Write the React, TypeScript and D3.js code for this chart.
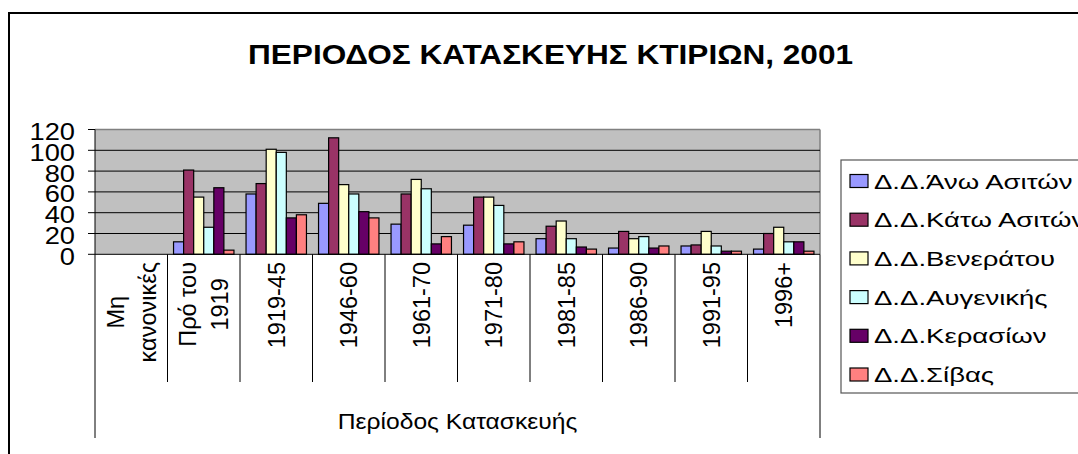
import React, { useEffect, useRef } from "react";
import * as d3 from "d3";

const categories = ["Μη κανονικές", "Πρό του 1919", "1919-45", "1946-60", "1961-70", "1971-80", "1981-85", "1986-90", "1991-95", "1996+"];
const categoryLines = [["Μη", "κανονικές"], ["Πρό του", "1919"], ["1919-45"], ["1946-60"], ["1961-70"], ["1971-80"], ["1981-85"], ["1986-90"], ["1991-95"], ["1996+"]];
const seriesNames = ["Δ.Δ.Άνω Ασιτών", "Δ.Δ.Κάτω Ασιτών", "Δ.Δ.Βενεράτου", "Δ.Δ.Αυγενικής", "Δ.Δ.Κερασίων", "Δ.Δ.Σίβας"];
const anoAsiton = [0, 12, 58, 49, 29, 28, 15, 6, 8, 5];
const katoAsiton = [0, 81, 68, 112, 58, 55, 27, 22, 9, 20];
const veneratou = [0, 55, 101, 67, 72, 55, 32, 15, 22, 26];
const avgenikis = [0, 26, 98, 58, 63, 47, 15, 17, 8, 12];
const kerasion = [0, 64, 35, 41, 10, 10, 7, 6, 3, 12];
const sivas = [0, 4, 38, 35, 17, 12, 5, 8, 3, 3];
const seriesValues = [anoAsiton, katoAsiton, veneratou, avgenikis, kerasion, sivas];
const seriesColors = ["#9999FF", "#993366", "#FFFFCC", "#CCFFFF", "#660066", "#FF8080"];
const yTicks = [0, 20, 40, 60, 80, 100, 120];
const title = "ΠΕΡΙΟΔΟΣ ΚΑΤΑΣΚΕΥΗΣ ΚΤΙΡΙΩΝ, 2001";
const axisTitle = "Περίοδος Κατασκευής";

export default function App() {
  const ref = useRef<SVGSVGElement>(null);
  useEffect(() => {
    const svg = d3.select(ref.current);
    svg.selectAll("*").remove();
    const W = 1078, H = 454;
    const font = "'Liberation Sans', Arial, sans-serif";
    const left = 95, right = 820, top = 129.5, zero = 254.3;

    svg.append("rect").attr("x", 0).attr("y", 0).attr("width", W).attr("height", H).attr("fill", "#fff");
    svg.append("rect").attr("x", 9).attr("y", 13).attr("width", W + 20).attr("height", H + 20)
      .attr("fill", "#fff").attr("stroke", "#000").attr("stroke-width", 2);

    svg.append("text").attr("x", 248).attr("y", 64).attr("font-family", font).attr("font-weight", "bold")
      .attr("font-size", 27).attr("textLength", 605).attr("lengthAdjust", "spacingAndGlyphs").text(title);

    const y = d3.scaleLinear().domain([0, 120]).range([zero, top]);
    const x = d3.scaleBand().domain(categories).range([left, right]);
    const xi = d3.scaleBand().domain(seriesNames).range([0, x.bandwidth()]).paddingInner(0).paddingOuter(0.6);

    svg.append("rect").attr("x", left).attr("y", top).attr("width", right - left).attr("height", zero - top).attr("fill", "#C0C0C0");
    svg.append("line").attr("x1", left).attr("x2", right).attr("y1", top).attr("y2", top).attr("stroke", "#808080").attr("stroke-width", 1.5);
    svg.append("line").attr("x1", right).attr("x2", right).attr("y1", top).attr("y2", zero).attr("stroke", "#808080").attr("stroke-width", 1.5);

    yTicks.filter(t => t > 0 && t < 120).forEach(t => {
      svg.append("line").attr("x1", left).attr("x2", right).attr("y1", y(t)).attr("y2", y(t)).attr("stroke", "#000").attr("stroke-width", 1);
    });

    seriesValues.forEach((vals, si) => {
      svg.append("g").selectAll("rect").data(vals.map((v, ci) => ({ v, c: categories[ci] })).filter(d => d.v > 0))
        .join("rect")
        .attr("x", d => (x(d.c) as number) + (xi(seriesNames[si]) as number))
        .attr("y", d => y(d.v))
        .attr("width", xi.bandwidth())
        .attr("height", d => zero - y(d.v))
        .attr("fill", seriesColors[si]).attr("stroke", "#000").attr("stroke-width", 1.2);
    });

    // axes
    svg.append("line").attr("x1", left).attr("x2", left).attr("y1", top).attr("y2", zero).attr("stroke", "#000");
    svg.append("line").attr("x1", left).attr("x2", right).attr("y1", zero).attr("y2", zero).attr("stroke", "#000");
    yTicks.forEach(t => {
      svg.append("line").attr("x1", left - 7).attr("x2", left).attr("y1", y(t)).attr("y2", y(t)).attr("stroke", "#000");
      svg.append("g").attr("transform", `translate(75,${y(t) + 10.5}) scale(1.16,1)`)
        .append("text").attr("text-anchor", "end").attr("font-family", font).attr("font-size", 23.5).text(String(t));
    });

    // category dividers
    for (let i = 0; i <= categories.length; i++) {
      const xx = left + i * x.bandwidth();
      const outer = i === 0 || i === categories.length;
      svg.append("line").attr("x1", xx).attr("x2", xx).attr("y1", zero).attr("y2", outer ? 438 : 382)
        .attr("stroke", "#000").attr("stroke-width", 1);
    }

    // category labels
    const fs = 23.5, gap = 32, labelTop = 262;
    categoryLines.forEach((lines, ci) => {
      const cx = (x(categories[ci]) as number) + x.bandwidth() / 2;
      const n = lines.length;
      const nodes = lines.map((ln, j) => {
        const bx = cx + 0.358 * fs + (j - (n - 1) / 2) * gap;
        const g = svg.append("g");
        const t = g.append("text").attr("font-family", font).attr("font-size", fs).text(ln);
        return { g, t, bx };
      });
      if (n === 1) {
        nodes[0].t.attr("text-anchor", "end");
        nodes[0].g.attr("transform", `translate(${nodes[0].bx},${labelTop}) rotate(-90)`);
      } else {
        const L = d3.max(nodes, d => (d.t.node() as SVGTextElement).getComputedTextLength()) as number;
        nodes.forEach(d => {
          d.t.attr("text-anchor", "middle");
          d.g.attr("transform", `translate(${d.bx},${labelTop + L / 2}) rotate(-90)`);
        });
      }
    });

    svg.append("g").attr("transform", `translate(${(left + right) / 2},429) scale(1.12,1)`)
      .append("text").attr("text-anchor", "middle").attr("font-family", font).attr("font-size", 22).text(axisTitle);

    // legend
    svg.append("rect").attr("x", 841).attr("y", 160).attr("width", 300).attr("height", 233)
      .attr("fill", "#fff").attr("stroke", "#555").attr("stroke-width", 1.2);
    seriesNames.forEach((name, i) => {
      const cy = 181 + 38.7 * i;
      svg.append("rect").attr("x", 850).attr("y", cy - 6.5).attr("width", 18).attr("height", 13)
        .attr("fill", seriesColors[i]).attr("stroke", "#000").attr("stroke-width", 1.2);
      svg.append("g").attr("transform", `translate(874,${cy + 7.5}) scale(1.31,1)`)
        .append("text").attr("font-family", font).attr("font-size", 21).text(name);
    });
  }, []);
  return <svg ref={ref} width={1078} height={454} style={{ position: "absolute", left: 0, top: 0 }} />;
}
